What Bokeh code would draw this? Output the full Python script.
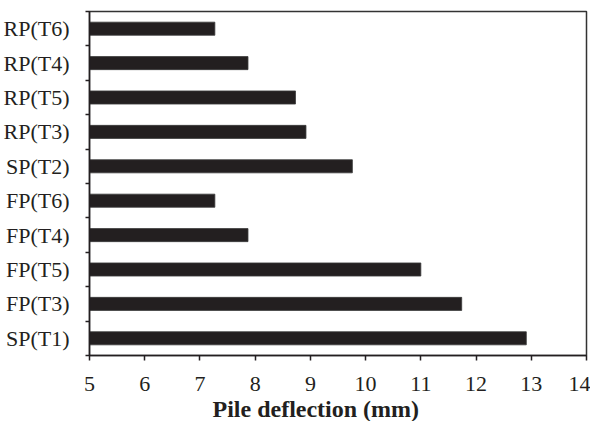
from bokeh.plotting import figure
from bokeh.models import Range1d, FixedTicker, Title
from bokeh.embed import file_html
from bokeh.resources import INLINE

# Data (bottom to top)
categories = ["SP(T1)", "FP(T3)", "FP(T5)", "FP(T4)", "FP(T6)",
              "SP(T2)", "RP(T3)", "RP(T5)", "RP(T4)", "RP(T6)"]
deflection_mm = [12.91, 11.74, 11.0, 7.87, 7.27, 9.76, 8.92, 8.73, 7.87, 7.27]
x_ticks = [5, 6, 7, 8, 9, 10, 11, 12, 13, 14]
x_label = "Pile deflection (mm)"

ink = "#231f20"
font = "Liberation Serif"

idx = list(range(len(categories)))
boundaries = [i - 0.5 for i in range(len(categories) + 1)]

p = figure(width=590, height=415, output_backend="svg", toolbar_location=None,
           x_range=Range1d(5, 14), y_range=Range1d(-0.5, len(categories) - 0.5))
p.frame_width = 497
p.frame_height = 344
p.min_border_left = 89
p.min_border_right = 4
p.min_border_top = 11
p.min_border_bottom = 60

p.hbar(y=idx, left=5, right=deflection_mm, height=0.38,
       fill_color=ink, line_color="#3a3a3a", line_width=0.8)

p.xgrid.visible = False
p.ygrid.visible = False
p.outline_line_color = "#333333"
p.outline_line_width = 1.5
p.background_fill_color = "white"
p.border_fill_color = "white"

xa = p.xaxis[0]
xa.ticker = FixedTicker(ticks=x_ticks, minor_ticks=[])
xa.major_label_text_font = font
xa.major_label_text_font_size = "22px"
xa.major_label_text_color = ink
xa.major_label_standoff = 16
xa.major_tick_in = 0
xa.major_tick_out = 5
xa.major_tick_line_color = ink
xa.major_tick_line_width = 1.5
xa.minor_tick_line_color = None
xa.axis_line_color = ink
xa.axis_line_width = 1.5

t = Title(text=x_label, align="left", offset=123,
          text_font=font, text_font_style="bold", text_font_size="24px",
          text_color=ink, standoff=0)
p.add_layout(t, "below")

ya = p.yaxis[0]
ya.ticker = FixedTicker(ticks=idx, minor_ticks=boundaries)
ya.major_label_overrides = {i: c for i, c in zip(idx, categories)}
ya.major_label_text_font = font
ya.major_label_text_font_size = "22px"
ya.major_label_text_color = ink
ya.major_label_standoff = 14
ya.major_tick_line_color = None
ya.minor_tick_in = 0
ya.minor_tick_out = 4
ya.minor_tick_line_color = ink
ya.minor_tick_line_width = 1.5
ya.axis_line_color = ink
ya.axis_line_width = 1.5

open("out.html", "w").write(file_html(p, INLINE))
